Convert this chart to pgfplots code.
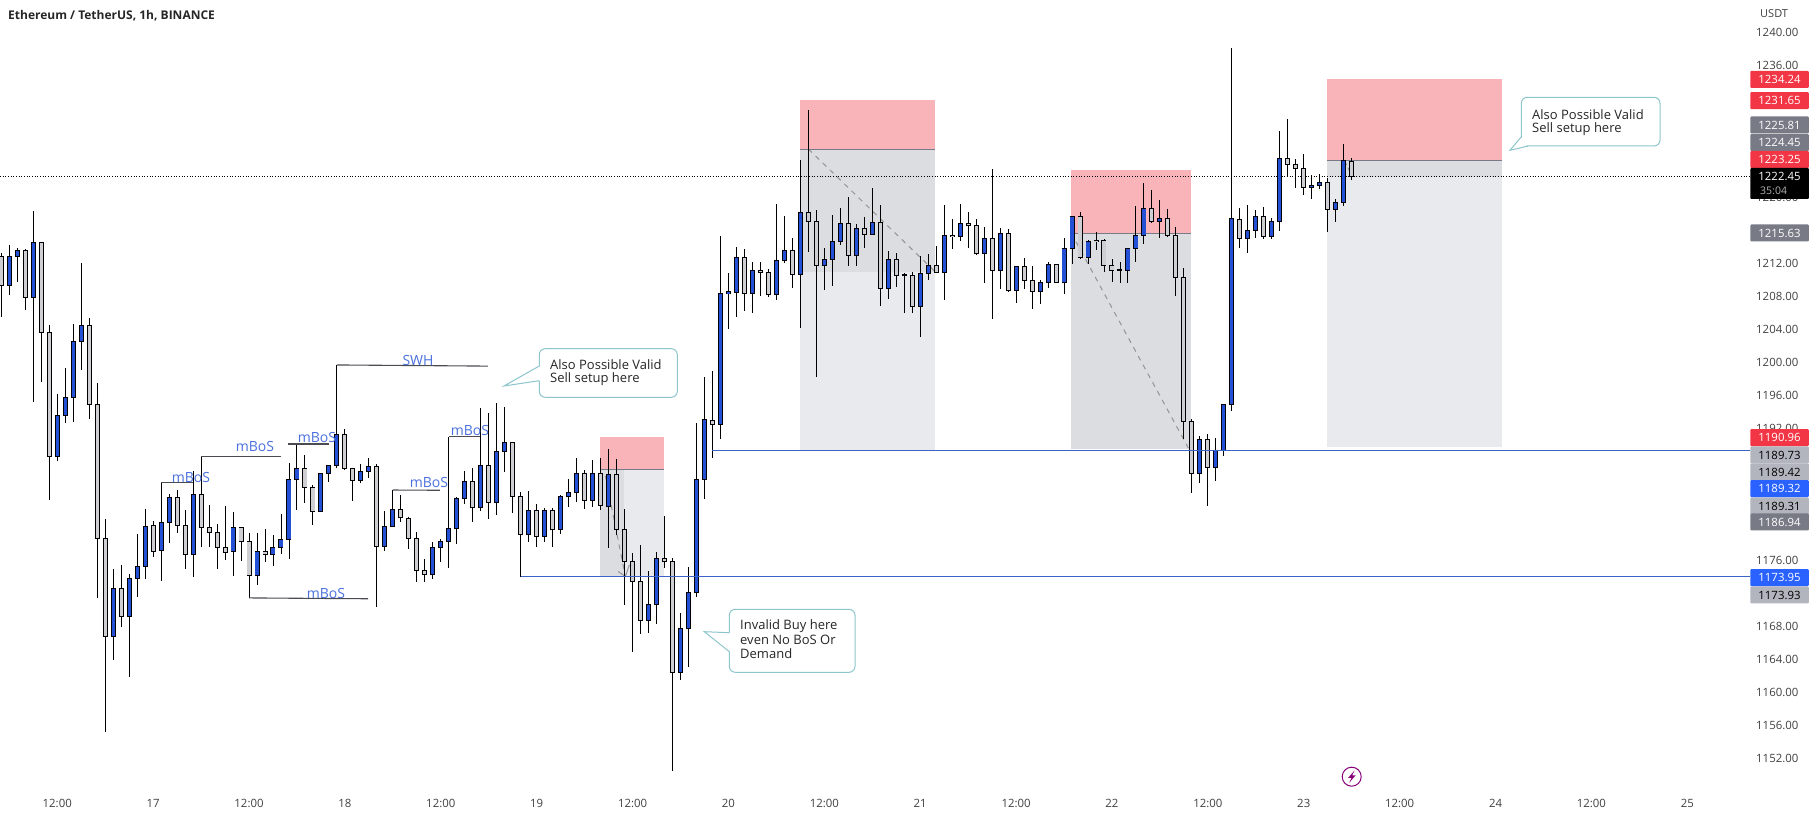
\documentclass[border=0pt]{standalone}
\usepackage{fontspec}
\setmainfont{Open Sans}
\usepackage{pgfplots}
\usepackage{pgfplotstable}
\pgfplotsset{compat=1.18}
\definecolor{cup}{HTML}{2450D6}
\definecolor{cdn}{HTML}{CFCFD3}
\definecolor{zred}{HTML}{F9B4BA}
\definecolor{zdark}{HTML}{DBDDE0}
\definecolor{zlight}{HTML}{E8EAED}
\definecolor{tagred}{HTML}{F23645}
\definecolor{taggrey}{HTML}{787B86}
\definecolor{taglight}{HTML}{B2B5BE}
\definecolor{tagblue}{HTML}{2962FF}
\definecolor{lineblue}{HTML}{3D62C8}
\definecolor{txtblue}{HTML}{4A70DC}
\definecolor{bub}{HTML}{8CC6CC}
\definecolor{anno}{HTML}{4A4C52}
\pgfplotstableread{
i o h l c
1 1209.29 1214.14 1208.16 1212.84
2 1212.80 1213.83 1209.72 1213.53
4 1207.82 1218.29 1195.13 1214.48
7 1188.55 1196.09 1188.03 1193.53
8 1193.49 1199.25 1192.62 1195.70
9 1195.70 1204.57 1192.71 1202.49
10 1202.49 1211.97 1199.07 1204.44
14 1166.73 1174.87 1163.88 1172.58
16 1169.16 1174.27 1161.84 1173.79
17 1173.79 1179.12 1171.54 1175.22
18 1175.22 1182.15 1173.66 1180.07
20 1177.17 1181.15 1173.49 1180.55
21 1180.59 1184.05 1178.12 1183.58
24 1176.69 1186.78 1173.92 1183.97
29 1177.04 1181.80 1174.09 1179.94
32 1174.14 1179.33 1173.01 1177.04
34 1176.69 1179.03 1175.31 1177.51
35 1177.51 1181.58 1176.78 1178.51
36 1178.51 1187.73 1176.17 1185.78
37 1185.78 1187.86 1182.10 1187.13
40 1181.89 1186.48 1181.89 1186.48
41 1186.48 1187.56 1185.48 1187.47
42 1187.43 1191.76 1187.21 1191.24
45 1185.61 1187.60 1185.35 1186.73
46 1186.69 1188.38 1186.00 1187.34
48 1177.64 1181.93 1177.12 1180.07
49 1180.09 1182.87 1180.09 1182.15
54 1174.27 1178.19 1173.70 1177.54
55 1177.54 1178.51 1175.72 1178.27
56 1178.27 1180.45 1175.04 1179.84
57 1179.84 1183.68 1177.95 1183.48
58 1183.48 1186.83 1182.83 1185.54
60 1182.39 1194.39 1181.94 1187.48
62 1182.99 1194.99 1181.50 1189.18
63 1189.18 1194.55 1186.71 1190.27
66 1179.12 1184.37 1178.19 1182.03
68 1178.83 1182.35 1178.23 1182.03
70 1179.72 1183.88 1179.16 1183.72
71 1183.72 1185.78 1182.47 1184.21
72 1184.21 1188.37 1183.08 1186.51
74 1183.24 1188.13 1182.47 1186.51
76 1182.51 1189.50 1177.50 1186.39
81 1168.69 1174.67 1167.20 1170.63
82 1170.59 1176.98 1168.21 1176.21
85 1162.39 1169.54 1161.46 1167.72
86 1167.72 1175.12 1163.08 1172.09
87 1172.09 1192.57 1171.56 1185.78
88 1185.78 1198.15 1183.40 1193.05
90 1192.45 1215.27 1190.71 1208.33
91 1208.33 1210.75 1204.04 1208.49
92 1208.45 1213.90 1205.50 1212.69
94 1208.33 1212.08 1205.98 1211.11
97 1208.21 1219.15 1207.52 1212.33
98 1212.29 1217.70 1212.04 1213.54
100 1210.63 1224.49 1204.16 1218.14
103 1211.72 1213.82 1208.73 1212.45
104 1212.45 1217.78 1209.26 1214.63
105 1214.63 1218.67 1214.18 1216.81
107 1212.93 1216.69 1211.68 1216.20
109 1215.48 1221.09 1215.40 1216.93
111 1208.89 1213.42 1207.68 1212.45
115 1206.75 1212.85 1203.07 1210.75
116 1210.75 1213.09 1209.94 1211.72
118 1210.87 1218.99 1207.52 1215.36
120 1215.24 1219.15 1214.71 1216.81
123 1213.13 1216.37 1209.62 1214.99
125 1211.11 1216.20 1208.85 1215.56
127 1208.69 1211.60 1207.11 1211.56
130 1208.57 1209.90 1207.07 1209.66
131 1209.66 1212.08 1209.01 1211.84
133 1209.66 1214.99 1208.29 1213.74
134 1213.78 1217.66 1211.92 1217.66
136 1212.69 1214.75 1211.88 1214.63
141 1211.12 1213.86 1209.62 1213.78
142 1213.78 1218.91 1212.17 1215.36
143 1215.36 1221.66 1214.31 1218.63
145 1217.01 1219.64 1215.07 1217.42
150 1186.51 1191.00 1185.30 1190.63
152 1187.24 1190.79 1185.62 1189.26
153 1189.26 1194.87 1188.65 1194.87
154 1194.87 1238.02 1194.11 1217.42
156 1215.00 1219.03 1213.26 1215.96
157 1215.96 1218.39 1214.99 1217.66
159 1215.24 1217.42 1214.87 1217.05
160 1217.05 1228.04 1215.92 1224.69
164 1221.17 1222.71 1219.80 1221.42
165 1221.38 1222.75 1221.01 1221.78
167 1218.51 1219.72 1217.01 1219.35
168 1219.35 1226.43 1218.95 1224.36
}\upcandles
\pgfplotstableread{
i o h l c
0 1212.84 1213.19 1205.48 1209.29
3 1213.53 1213.70 1206.30 1207.86
5 1214.48 1214.48 1197.56 1203.57
6 1203.57 1204.44 1183.27 1188.55
11 1204.44 1205.39 1193.14 1194.87
12 1194.87 1197.51 1171.41 1178.64
13 1178.64 1180.94 1155.18 1166.73
15 1172.58 1175.39 1167.90 1169.16
19 1180.20 1180.72 1176.39 1177.04
22 1183.58 1184.48 1179.33 1180.20
23 1180.20 1182.06 1174.96 1176.69
25 1183.97 1184.83 1177.56 1179.98
26 1179.94 1182.67 1177.56 1179.33
27 1179.33 1180.37 1174.87 1177.56
28 1177.51 1182.54 1176.04 1176.91
30 1179.94 1179.94 1175.91 1178.30
31 1178.25 1179.29 1173.36 1174.14
33 1177.04 1179.72 1175.74 1176.69
38 1187.13 1188.73 1182.97 1184.83
39 1184.83 1185.13 1180.28 1181.89
43 1191.24 1191.89 1186.87 1187.13
44 1187.13 1187.13 1183.19 1185.65
47 1187.34 1187.60 1170.29 1177.64
50 1182.15 1183.88 1180.65 1181.10
51 1181.06 1181.26 1177.34 1178.63
52 1178.63 1179.36 1173.38 1174.75
53 1174.75 1176.13 1173.38 1174.27
59 1185.54 1187.12 1180.61 1182.39
61 1187.48 1193.78 1181.02 1182.99
64 1190.27 1190.27 1181.74 1183.72
65 1183.72 1184.29 1178.43 1179.12
67 1182.03 1182.79 1177.62 1178.83
69 1182.03 1182.35 1177.62 1179.72
73 1186.51 1186.91 1182.19 1183.24
75 1186.51 1188.33 1182.07 1182.59
77 1186.39 1188.29 1179.04 1179.72
78 1179.72 1182.15 1170.55 1175.84
79 1175.84 1176.81 1164.90 1173.42
80 1173.42 1177.82 1167.08 1168.69
83 1176.21 1181.34 1175.08 1175.80
84 1175.84 1176.21 1150.43 1162.39
89 1192.93 1198.87 1188.33 1192.45
93 1212.69 1213.66 1206.23 1208.33
95 1211.11 1212.08 1208.04 1210.83
96 1210.87 1211.24 1207.84 1208.21
99 1213.54 1215.03 1209.01 1210.63
101 1218.14 1230.55 1213.34 1217.05
102 1217.05 1218.43 1198.23 1211.72
106 1216.81 1220.00 1211.64 1212.93
108 1216.20 1217.58 1213.86 1215.48
110 1216.93 1219.03 1206.83 1208.89
112 1212.45 1213.17 1209.13 1210.51
113 1210.55 1210.75 1205.98 1210.47
114 1210.51 1210.95 1205.98 1206.75
117 1211.72 1214.06 1210.87 1210.87
119 1215.36 1217.30 1213.74 1215.24
121 1216.81 1218.18 1213.86 1216.57
122 1216.57 1217.29 1213.00 1213.13
124 1214.99 1223.35 1205.26 1211.11
126 1215.56 1216.08 1208.45 1208.65
128 1211.56 1212.57 1208.85 1209.90
129 1209.90 1211.60 1206.47 1208.57
132 1211.84 1211.84 1209.66 1209.66
135 1217.66 1218.19 1212.49 1212.65
137 1214.75 1215.72 1213.58 1214.63
138 1214.75 1214.95 1210.95 1211.72
139 1211.72 1212.45 1209.74 1211.12
140 1211.16 1212.13 1209.58 1211.07
144 1218.63 1220.85 1216.89 1217.01
146 1217.42 1218.51 1215.12 1215.32
147 1215.36 1216.33 1208.05 1210.27
148 1210.27 1211.40 1190.71 1192.81
149 1192.81 1193.10 1184.17 1186.51
151 1190.63 1191.24 1182.55 1187.24
155 1217.30 1218.63 1213.86 1215.00
158 1217.66 1218.83 1214.87 1215.24
161 1224.69 1229.41 1222.55 1223.96
162 1223.96 1224.57 1221.13 1223.44
163 1223.48 1225.17 1220.28 1221.13
166 1221.78 1222.26 1215.80 1218.51
169 1224.32 1224.73 1222.10 1222.45
}\downcandles
\pgfplotsset{
  wick/.style={draw=none,mark=none,forget plot,error bars/.cd,y dir=both,y explicit,error mark=none,
    error bar style={black,line width=0.95pt}},
  bodyo/.style={draw=none,mark=none,forget plot,error bars/.cd,y dir=both,y explicit,error mark=none,
    error bar style={black,line width=5pt}},
  bodyi/.style={draw=none,mark=none,forget plot,error bars/.cd,y dir=both,y explicit,error mark=none,
    error bar style={#1,line width=3.1pt}},
  zone/.style={draw=none,fill=#1,forget plot},
  lvl/.style={line width=#1,forget plot,mark=none},
}
\newcommand{\candles}[2]{%
  \addplot[wick] table[x=i,y expr={(\thisrow{h}+\thisrow{l})/2},y error expr={(\thisrow{h}-\thisrow{l})/2}] {#1};
  \addplot[bodyo] table[x=i,y expr={(\thisrow{o}+\thisrow{c})/2},y error expr={abs(\thisrow{c}-\thisrow{o})/2+0.07}] {#1};
  \addplot[bodyi=#2] table[x=i,y expr={(\thisrow{o}+\thisrow{c})/2},y error expr={max(abs(\thisrow{c}-\thisrow{o})/2-0.05,0)}] {#1};
}
\newcommand{\Tag}[4]{\node[fill=#2,text=#3,rounded corners=1pt,minimum width=58.5pt,minimum height=17pt,inner sep=0pt,font=\fontsize{11.4}{13}\selectfont,anchor=center] at (1779.5,#1) {#4};}
\begin{document}
\begin{tikzpicture}
\path[use as bounding box] (0,0) rectangle (1814pt,818pt);
\begin{axis}[
  at={(0pt,30pt)},anchor=south west,scale only axis,width=1750pt,height=788pt,
  xmin=-0.166,xmax=218.85,ymin=1148.36,ymax=1243.88,
  axis x line=bottom,axis y line=right,
  clip=true,
  axis line style={draw=none,-},
  major tick length=0pt,
  ytick={1152,1156,1160,1164,1168,1176,1192,1196,1200,1204,1208,1212,1220,1236,1240},
  yticklabel style={/pgf/number format/fixed,/pgf/number format/fixed zerofill,/pgf/number format/precision=2,/pgf/number format/1000 sep={},/pgf/number format/assume math mode=true,anchor=west,xshift=6pt,inner sep=0pt,text=black!75,font=\fontsize{11.4}{13}\selectfont},
  xtick={7,19,31,43,55,67,79,91,103,115,127,139,151,163,175,187,199,211},
  xticklabels={12:00,17,12:00,18,12:00,19,12:00,20,12:00,21,12:00,22,12:00,23,12:00,24,12:00,25},
  xticklabel style={anchor=center,yshift=-15pt,text=black!75,inner sep=0pt,font=\fontsize{11.4}{13}\selectfont},
]
% zones
\addplot[zone=zred] coordinates {(74.93,1190.96)(82.94,1190.96)(82.94,1186.94)(74.93,1186.94)} --cycle;
\addplot[zone=zlight] coordinates {(74.93,1186.94)(82.94,1186.94)(82.94,1173.95)(74.93,1173.95)} --cycle;
\addplot[zone=zdark] coordinates {(74.93,1186.94)(77.9,1186.94)(77.9,1173.95)(74.93,1173.95)} --cycle;
\addplot[zone=zred] coordinates {(99.96,1231.75)(116.86,1231.75)(116.86,1225.81)(99.96,1225.81)} --cycle;
\addplot[zone=zlight] coordinates {(99.96,1225.81)(116.86,1225.81)(116.86,1189.32)(99.96,1189.32)} --cycle;
\addplot[zone=zdark] coordinates {(99.96,1225.81)(116.86,1225.81)(116.86,1210.95)(99.96,1210.95)} --cycle;
\addplot[zone=zred] coordinates {(133.9,1223.25)(148.9,1223.25)(148.9,1215.63)(133.9,1215.63)} --cycle;
\addplot[zone=zdark] coordinates {(133.9,1215.63)(148.9,1215.63)(148.9,1189.42)(133.9,1189.42)} --cycle;
\addplot[zone=zred] coordinates {(165.9,1234.34)(187.8,1234.34)(187.8,1224.45)(165.9,1224.45)} --cycle;
\addplot[zone=zlight] coordinates {(165.9,1224.45)(187.8,1224.45)(187.8,1189.73)(165.9,1189.73)} --cycle;
\addplot[zone=zdark] coordinates {(165.9,1224.45)(187.8,1224.45)(187.8,1222.45)(165.9,1222.45)} --cycle;
% zone edges
\addplot[lvl=0.9pt,color=taggrey] coordinates {(74.93,1186.94)(82.94,1186.94)};
\addplot[lvl=0.9pt,color=taggrey] coordinates {(99.96,1225.81)(116.86,1225.81)};
\addplot[lvl=0.9pt,color=taggrey] coordinates {(133.9,1215.63)(148.9,1215.63)};
\addplot[lvl=0.9pt,color=taggrey] coordinates {(165.9,1224.45)(187.8,1224.45)};
% dashed paths
\addplot[lvl=1pt,color=black!42,dash pattern=on 5pt off 5pt] coordinates {(75.6,1186.2)(78.06,1174.2)};
\addplot[lvl=1pt,color=black!42] coordinates {(77.2,1174.6)(78.1,1174.0)(78.6,1175.4)};
\addplot[lvl=1pt,color=black!42,dash pattern=on 5pt off 5pt] coordinates {(101,1225.81)(116.86,1210.95)};
\addplot[lvl=1pt,color=black!42,dash pattern=on 5pt off 5pt] coordinates {(133.9,1215.63)(148.6,1189.5)};
\addplot[lvl=1pt,color=black!42,dash pattern=on 3pt off 3pt] coordinates {(168.2,1224.2)(169,1222.6)};
% dotted last price
\addplot[lvl=0.8pt,color=black,dash pattern=on 1pt off 1.67pt] coordinates {(-0.166,1222.45)(218.85,1222.45)};
% candles
\candles{\upcandles}{cup}
\candles{\downcandles}{cdn}
% level lines
\addplot[lvl=1.1pt,color=lineblue] coordinates {(89,1189.32)(218.85,1189.32)};
\addplot[lvl=1.1pt,color=lineblue] coordinates {(65,1173.95)(218.85,1173.95)};
\addplot[lvl=1pt,color=black] coordinates {(65,1179.12)(65,1173.95)};
% structure lines
\addplot[lvl=1pt,color=black] coordinates {(20,1180.55)(20,1185.35)};
\addplot[lvl=1.1pt,color=anno] coordinates {(20,1185.35)(24,1185.35)};
\addplot[lvl=1pt,color=black] coordinates {(25,1183.97)(25,1188.51)};
\addplot[lvl=1.1pt,color=anno] coordinates {(25,1188.51)(35,1188.51)};
\addplot[lvl=1pt,color=black] coordinates {(37,1187.13)(37,1190.06)};
\addplot[lvl=1.1pt,color=anno] coordinates {(35.9,1190.06)(41,1190.06)};
\addplot[lvl=1pt,color=black] coordinates {(42,1191.24)(42,1199.64)};
\addplot[lvl=1.1pt,color=anno] coordinates {(42,1199.64)(60.9,1199.5)};
\addplot[lvl=1pt,color=black] coordinates {(31,1174.14)(31,1171.4)};
\addplot[lvl=1.1pt,color=anno] coordinates {(31,1171.4)(45.9,1171.3)};
\addplot[lvl=1pt,color=black] coordinates {(49,1182.15)(49,1184.48)};
\addplot[lvl=1.1pt,color=anno] coordinates {(49,1184.48)(54.9,1184.45)};
\addplot[lvl=1pt,color=black] coordinates {(56,1179.84)(56,1190.95)};
\addplot[lvl=1.1pt,color=anno] coordinates {(56,1190.95)(59.9,1190.95)};
\end{axis}
\begin{scope}[x=1pt,y=-1pt,shift={(0pt,818pt)}]
% title and currency
\node[anchor=west,inner sep=0pt,font=\fontsize{12}{14}\selectfont\bfseries,text=black!85] at (8,16) {Ethereum / TetherUS, 1h, BINANCE};
\node[anchor=west,inner sep=0pt,font=\fontsize{11}{13}\selectfont,text=black!75] at (1760,14) {USDT};
% structure labels
\tikzset{ml/.style={inner sep=0pt,text=txtblue,font=\fontsize{14}{16}\selectfont}}
\node[ml] at (191,478) {mBoS};
\node[ml] at (255,447) {mBoS};
\node[ml] at (317,438) {mBoS};
\node[ml] at (418,361) {SWH};
\node[ml] at (326,594) {mBoS};
\node[ml] at (429,483) {mBoS};
\node[ml] at (470,431) {mBoS};
% callouts
\tikzset{bu/.style={draw=bub,line width=1pt,fill=white,rounded corners=6pt},bl/.style={draw=bub,line width=1pt},
 bt/.style={anchor=west,inner sep=0pt,text=black!85,font=\fontsize{13}{14}\selectfont}}
\draw[bu] (539.3,348.7) rectangle (677.3,397.3);
\fill[white] (540.3,366) -- (504,386) -- (540.3,380.7) -- cycle;
\draw[bl] (539.3,366) -- (504,386) -- (539.3,380.7);
\node[bt] at (550,365) {Also Possible Valid};
\node[bt] at (550,379.5) {Sell setup here};
\draw[bu] (1521.3,97.3) rectangle (1660,146);
\fill[white] (1522.3,136.7) -- (1510,150.3) -- (1528.3,145) -- cycle;
\draw[bl] (1521.3,136.7) -- (1510,150.3) -- (1528.3,146);
\node[bt] at (1532,114.5) {Also Possible Valid};
\node[bt] at (1532,129) {Sell setup here};
\draw[bu] (729.3,609.3) rectangle (855,672.3);
\fill[white] (730.3,632.7) -- (704.3,631.7) -- (730.3,651.7) -- cycle;
\draw[bl] (729.3,632.7) -- (704.3,631.7) -- (729.3,651.7);
\node[bt] at (740,626) {Invalid Buy here};
\node[bt] at (740,640) {even No BoS Or};
\node[bt] at (740,654) {Demand};
% bolt
\draw[color=purple!70!blue,line width=1pt] (1351.7,776.7) circle (9.5);
\fill[color=purple!70!blue] (1354.5,770.5) -- (1348,778) -- (1351.5,778) -- (1349,783) -- (1355.5,775.5) -- (1352,775.5) -- cycle;
% price tags
\Tag{79.3}{tagred}{white}{1234.24}
\Tag{100.7}{tagred}{white}{1231.65}
\Tag{125}{taggrey}{white}{1225.81}
\Tag{142.5}{taggrey}{white}{1224.45}
\Tag{159.5}{tagred}{white}{1223.25}
\node[fill=black,rounded corners=1pt,minimum width=58.5pt,minimum height=31pt,inner sep=0pt] at (1779.5,183.5) {};
\node[text=white,inner sep=0pt,font=\fontsize{11.4}{13}\selectfont] at (1779.5,176.5) {1222.45};
\node[text=black!30,inner sep=0pt,anchor=west,font=\fontsize{10.5}{12}\selectfont] at (1760,191) {35:04};
\Tag{233}{taggrey}{white}{1215.63}
\Tag{455}{taglight}{black}{1189.73}
\Tag{472}{taglight}{black}{1189.42}
\Tag{506}{taglight}{black}{1189.31}
\Tag{522}{taggrey}{white}{1186.94}
\Tag{488.7}{tagblue}{white}{1189.32}
\Tag{437.7}{tagred}{white}{1190.96}
\Tag{595}{taglight}{black}{1173.93}
\Tag{577.7}{tagblue}{white}{1173.95}
\end{scope}
\end{tikzpicture}
\end{document}
